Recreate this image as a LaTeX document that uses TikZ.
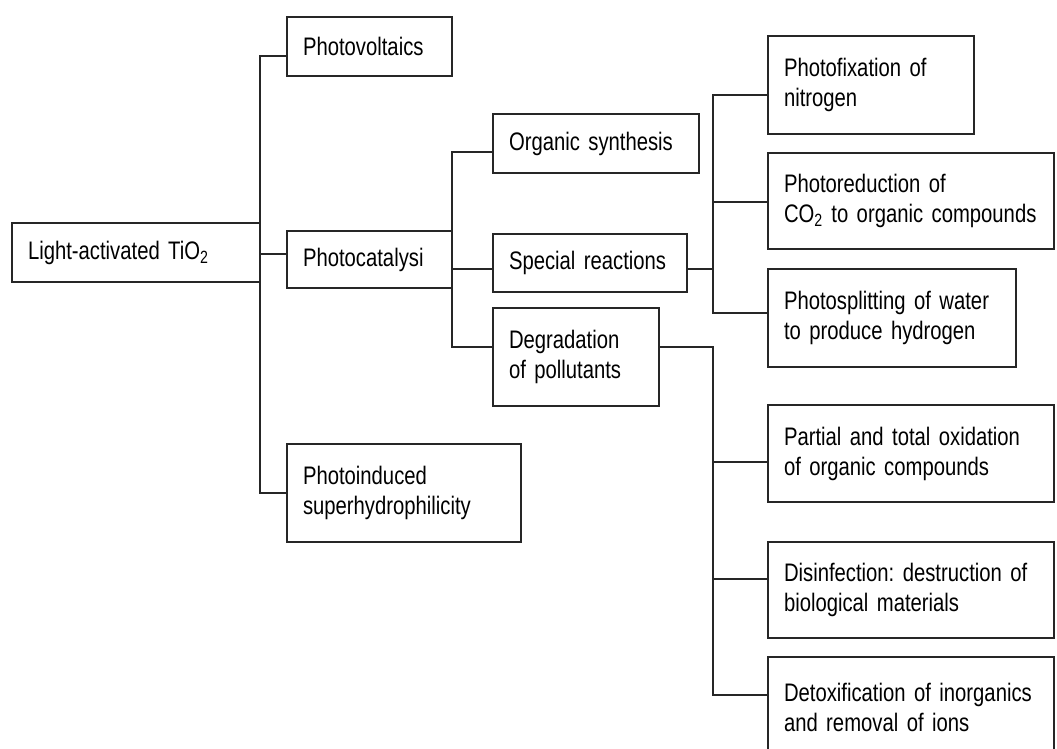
\documentclass[tikz,border=0pt]{standalone}
\usepackage{fontspec}
\setmainfont{Liberation Sans}[FakeStretch=0.8]

\begin{document}
\begin{tikzpicture}[
    x=0.75pt, y=-0.75pt,
    box/.style={rectangle, draw=black!85, line width=1.4pt, anchor=north west, outer sep=0pt, inner xsep=12pt, inner ysep=2pt, align=left, font=\fontsize{19pt}{22.5pt}\selectfont\frenchspacing},
    link/.style={draw=black!85, line width=1.2pt}
]
\useasboundingbox (0,0) rectangle (1057,749);
\clip (0,0) rectangle (1057,749);

% Root node
\node[box, text width=162pt, minimum height=44.25pt] (root) at (12,223) {Light-activated TiO\textsubscript{2}};

% First level
\node[box, text width=99.75pt, minimum height=44.25pt] (pv) at (287,17) {Photovoltaics};
\node[box, text width=99.75pt, minimum height=42.75pt] (pc) at (287,231) {Photocatalysi};
\node[box, text width=151.5pt, minimum height=73.5pt] (sh) at (287,444) {Photoinduced\\superhydrophilicity};

% Photocatalysis branches
\node[box, text width=130.5pt, minimum height=44.25pt] (os) at (493,114) {Organic synthesis};
\node[box, text width=121.5pt, minimum height=43.5pt] (sr) at (493,234) {Special reactions};
\node[box, text width=100.5pt, minimum height=73.5pt] (dg) at (493,308) {Degradation\\of pollutants};

% Special reactions
\node[box, text width=130.5pt, minimum height=73.5pt] (pf) at (768,36) {Photofixation of\\nitrogen};
\node[box, text width=190.5pt, minimum height=72pt] (prd) at (768,153) {Photoreduction of\\CO\textsubscript{2} to organic compounds};
\node[box, text width=162pt, minimum height=73.5pt] (ps) at (768,269) {Photosplitting of water\\to produce hydrogen};

% Degradation of pollutants
\node[box, text width=190.5pt, minimum height=72.75pt] (pt) at (768,405) {Partial and total oxidation\\of organic compounds};
\node[box, text width=190.5pt, minimum height=72pt] (ds) at (768,542) {Disinfection: destruction of\\biological materials};
\node[box, text width=190.5pt, minimum height=75pt] (dt) at (768,657) {Detoxification of inorganics\\and removal of ions};

% Hooks on the box edges
\path (pv.north west) ++(0,39) coordinate (pv-in);
\path (pc.north west) ++(0,23) coordinate (pc-in);
\path (sh.north west) ++(0,49) coordinate (sh-in);
\path (os.north west) ++(0,38) coordinate (os-in);
\path (sr.north west) ++(0,35) coordinate (sr-in);
\path (sr.north east) ++(0,35) coordinate (sr-out);
\path (dg.north west) ++(0,39) coordinate (dg-in);
\path (dg.north east) ++(0,39) coordinate (dg-out);
\path (pf.north west) ++(0,59) coordinate (pf-in);
\path (prd.north west) ++(0,49) coordinate (prd-in);
\path (ps.north west) ++(0,44) coordinate (ps-in);
\path (pt.north west) ++(0,57) coordinate (pt-in);
\path (ds.north west) ++(0,37) coordinate (ds-in);
\path (dt.north west) ++(0,38) coordinate (dt-in);
\path (sr-out) ++(26,0) coordinate (bus3);
\path (dg-out) ++(54,0) coordinate (bus4);

% Root to first level
\draw[link] (pv-in) -| (root.east);
\draw[link] (sh-in) -| (root.east);
\draw[link] (pc-in) -- (pc-in -| root.east);

% Photocatalysi to its branches
\draw[link] (os-in) -| (pc.east);
\draw[link] (dg-in) -| (pc.east);
\draw[link] (sr-in) -- (sr-in -| pc.east);

% Special reactions
\draw[link] (sr-out) -- (bus3);
\draw[link] (pf-in) -| (bus3);
\draw[link] (ps-in) -| (bus3);
\draw[link] (prd-in) -- (prd-in -| bus3);

% Degradation of pollutants
\draw[link] (dg-out) -- (bus4) |- (dt-in);
\draw[link] (pt-in) -- (pt-in -| bus4);
\draw[link] (ds-in) -- (ds-in -| bus4);

\end{tikzpicture}
\end{document}
